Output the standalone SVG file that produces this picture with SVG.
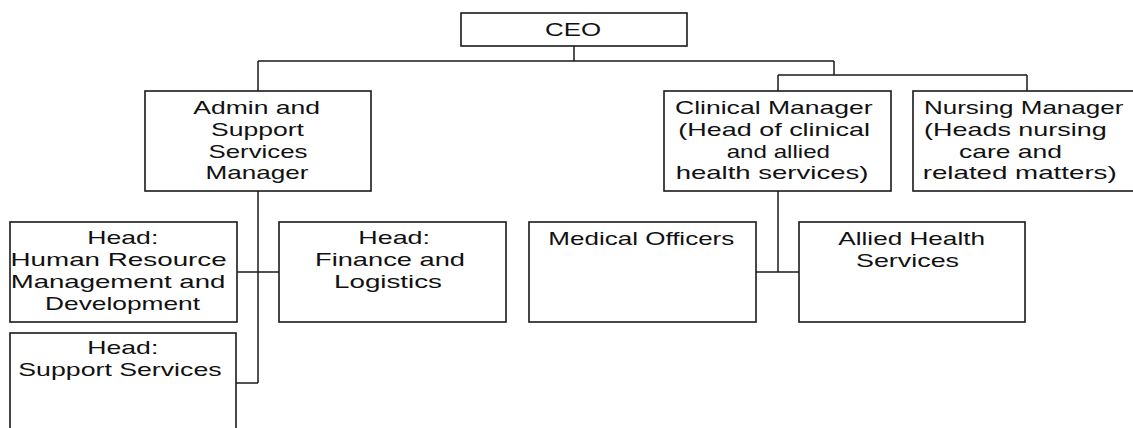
<svg xmlns="http://www.w3.org/2000/svg" width="1133" height="428" viewBox="0 0 1133 428">
<style>
.box{fill:#fff;stroke:#1a1a1a;stroke-width:1.6}
.ln{fill:none;stroke:#1a1a1a;stroke-width:1.5}
text{font-family:"Liberation Sans",Arial,sans-serif;font-size:19px;fill:#111}
</style>
<rect width="1133" height="428" fill="#fff"/>
<g id="connectors">
<path class="ln" d="M574 46V61M258 61H834M258 61V91M834 61V75M778 75H1027M778 75V91M1027 75V91"/>
<path class="ln" d="M258 191V383M237 272H279M236 383H258"/>
<path class="ln" d="M778 191V272M756 272H799"/>
</g>
<g id="ceo">
<rect class="box" x="461" y="13" width="226" height="33"/>
<text x="545" y="36" textLength="56" lengthAdjust="spacingAndGlyphs">CEO</text>
</g>
<g id="admin">
<rect class="box" x="145" y="91" width="226" height="100"/>
<text x="193.3" y="114" textLength="126.7" lengthAdjust="spacingAndGlyphs">Admin and</text>
<text x="211" y="136" textLength="93" lengthAdjust="spacingAndGlyphs">Support</text>
<text x="208.5" y="157.5" textLength="99" lengthAdjust="spacingAndGlyphs">Services</text>
<text x="205.5" y="179" textLength="103" lengthAdjust="spacingAndGlyphs">Manager</text>
</g>
<g id="clinical">
<rect class="box" x="664" y="91" width="227" height="100"/>
<text x="675" y="114" textLength="197.7" lengthAdjust="spacingAndGlyphs">Clinical Manager</text>
<text x="678.3" y="136" textLength="191.7" lengthAdjust="spacingAndGlyphs">(Head of clinical</text>
<text x="726.7" y="157.5" textLength="103.3" lengthAdjust="spacingAndGlyphs">and allied</text>
<text x="675.7" y="179" textLength="192.7" lengthAdjust="spacingAndGlyphs">health services)</text>
</g>
<g id="nursing">
<rect class="box" x="913" y="91" width="230" height="100"/>
<text x="924" y="114" textLength="199.3" lengthAdjust="spacingAndGlyphs">Nursing Manager</text>
<text x="924" y="136" textLength="182.7" lengthAdjust="spacingAndGlyphs">(Heads nursing</text>
<text x="959" y="157.5" textLength="103" lengthAdjust="spacingAndGlyphs">care and</text>
<text x="922.7" y="179" textLength="194" lengthAdjust="spacingAndGlyphs">related matters)</text>
</g>
<g id="hr">
<rect class="box" x="10" y="222" width="227" height="100"/>
<text x="87.3" y="244" textLength="71" lengthAdjust="spacingAndGlyphs">Head:</text>
<text x="10.5" y="266" textLength="216.2" lengthAdjust="spacingAndGlyphs">Human Resource</text>
<text x="10.7" y="288" textLength="214.7" lengthAdjust="spacingAndGlyphs">Management and</text>
<text x="45" y="309.5" textLength="155" lengthAdjust="spacingAndGlyphs">Development</text>
</g>
<g id="finance">
<rect class="box" x="279" y="222" width="227" height="100"/>
<text x="358.3" y="244" textLength="71.7" lengthAdjust="spacingAndGlyphs">Head:</text>
<text x="315" y="266" textLength="150" lengthAdjust="spacingAndGlyphs">Finance and</text>
<text x="334" y="288" textLength="108" lengthAdjust="spacingAndGlyphs">Logistics</text>
</g>
<g id="support">
<rect class="box" x="10" y="333" width="226" height="110"/>
<text x="87.3" y="354" textLength="71" lengthAdjust="spacingAndGlyphs">Head:</text>
<text x="18.3" y="376" textLength="203.3" lengthAdjust="spacingAndGlyphs">Support Services</text>
</g>
<g id="medical">
<rect class="box" x="529" y="222" width="227" height="100"/>
<text x="548.3" y="245" textLength="186" lengthAdjust="spacingAndGlyphs">Medical Officers</text>
</g>
<g id="allied">
<rect class="box" x="799" y="222" width="226" height="100"/>
<text x="838.3" y="245" textLength="146.7" lengthAdjust="spacingAndGlyphs">Allied Health</text>
<text x="856" y="267" textLength="103" lengthAdjust="spacingAndGlyphs">Services</text>
</g>
</svg>
